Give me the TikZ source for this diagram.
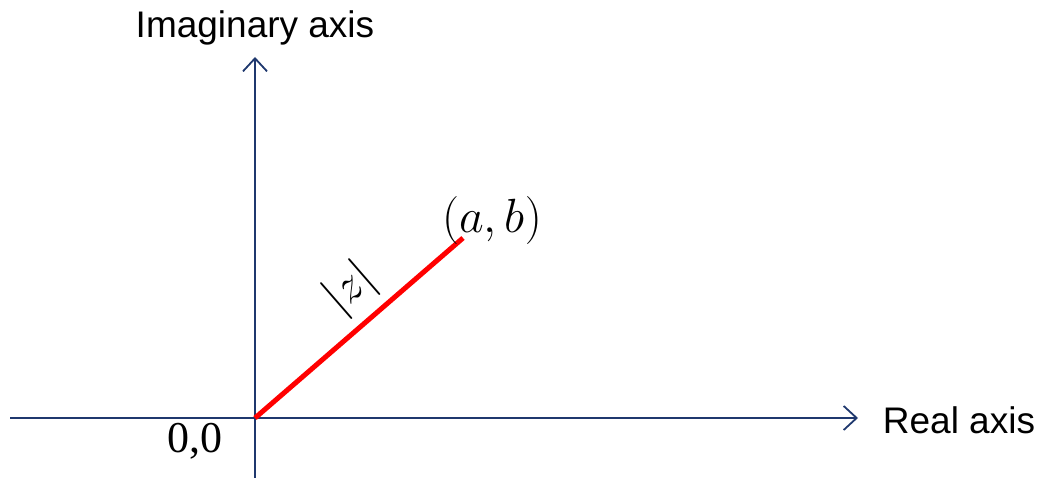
\RequirePackage{fix-cm}
\documentclass[tikz,border=0pt]{standalone}
\usepackage{fontspec}
\setmainfont{Liberation Serif}
\newfontfamily\axfont{Liberation Sans}
\usetikzlibrary{arrows.meta}
\definecolor{axisblue}{RGB}{31,56,110}
\definecolor{vecred}{RGB}{255,0,0}
\tikzset{
  axisline/.style={draw=axisblue, line width=1.8pt, -{Straight Barb[length=13pt,width=24pt,line width=1.8pt]}},
  vecline/.style={draw=vecred, line width=5pt},
  axlabel/.style={font=\axfont\fontsize{37}{42}\selectfont, inner sep=0pt},
  mathlabel/.style={font=\fontsize{48}{52}\selectfont, inner sep=0pt},
  originlabel/.style={font=\fontsize{44}{48}\selectfont, inner sep=0pt}
}
\begin{document}
\begin{tikzpicture}[x=1pt,y=-1pt]
\useasboundingbox (0,0) rectangle (1040,478);
\coordinate (o) at (255,418);
\coordinate (xs) at (10,418);
\coordinate (xe) at (858,418);
\coordinate (ys) at (255,478);
\coordinate (ye) at (255,57);
\coordinate (p) at (463,238);
\draw[axisline] (xs) -- (xe);
\draw[axisline] (ys) -- (ye);
\draw[vecline] (o) -- (p);
\node[axlabel] (im) at (255,28) {Imaginary axis};
\node[axlabel] (re) at (959,420) {Real axis};
\node[mathlabel] (ab) at (492,221) {$(a,b)$};
\node[mathlabel, rotate=41] (z) at (351,289) {$|z|$};
\node[originlabel] (zero) at (195,441) {0,0};
\end{tikzpicture}
\end{document}
